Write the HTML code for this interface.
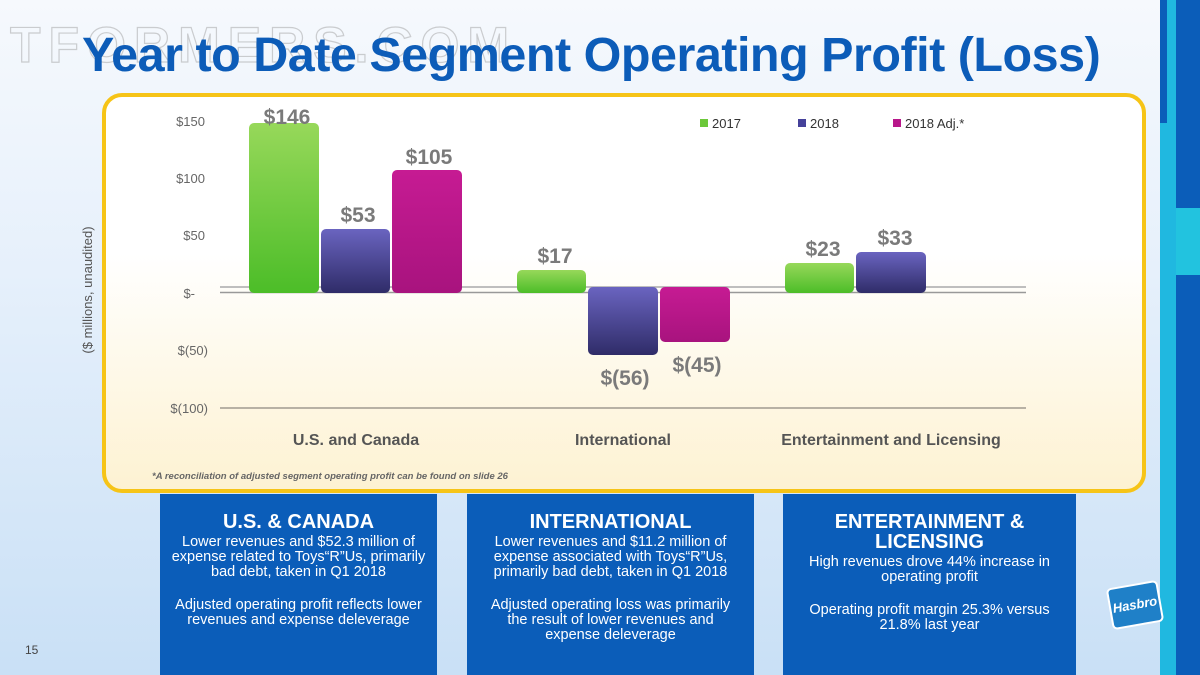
<!DOCTYPE html>
<html><head><meta charset="utf-8"><style>
body{margin:0;width:1200px;height:675px;overflow:hidden;font-family:"Liberation Sans",sans-serif;position:relative;background:linear-gradient(#f6f9fd 0%,#e6f0fb 40%,#c9e0f6 100%);}
.abs{position:absolute}
.title{left:82px;top:27px;font-size:48.5px;font-weight:bold;color:#0c5cb8;letter-spacing:-0.5px;white-space:nowrap}
.wm{left:10px;top:16px;font-size:50px;font-weight:bold;color:transparent;-webkit-text-stroke:1.2px rgba(150,150,150,0.45);letter-spacing:8px}
.box{left:102px;top:93px;width:1036px;height:392px;border:4px solid #f6c417;border-radius:20px;background:linear-gradient(#ffffff 0%,#ffffff 40%,#fdf2d2 100%)}
.panel{top:494px;height:181px;background:#0b5db9;color:#fff;text-align:center;box-sizing:border-box}
.panel h3{margin:18px 0 3px;font-size:20px;line-height:20px;font-weight:bold}
.panel p{margin:0 0 18px;font-size:14.5px;line-height:15px}
</style></head><body>
<div class="abs" style="left:1160px;top:0;width:16px;height:675px;background:#20b8e0"></div>
<div class="abs" style="left:1160px;top:0;width:7px;height:123px;background:#0b5db9"></div>
<div class="abs" style="left:1176px;top:0;width:24px;height:675px;background:#0b5db9"></div>
<div class="abs" style="left:1176px;top:208px;width:24px;height:67px;background:#22c3df"></div>
<div class="abs wm">TFORMERS.COM</div>
<div class="abs title">Year to Date Segment Operating Profit (Loss)</div>
<div class="abs box"></div>
<svg class="abs" style="left:0;top:0" width="1200" height="675">
<defs>
<linearGradient id="g" x1="0" y1="0" x2="0" y2="1"><stop offset="0" stop-color="#97d85a"/><stop offset="1" stop-color="#4cbd28"/></linearGradient>
<linearGradient id="p" x1="0" y1="0" x2="0" y2="1"><stop offset="0" stop-color="#6a64c0"/><stop offset="1" stop-color="#2f2c68"/></linearGradient>
<linearGradient id="m" x1="0" y1="0" x2="0" y2="1"><stop offset="0" stop-color="#c61b93"/><stop offset="1" stop-color="#a8137e"/></linearGradient>
</defs>
<g font-family="Liberation Sans" font-size="13" fill="#666" text-anchor="end">
<text x="205" y="126">$150</text><text x="205" y="183">$100</text><text x="205" y="240">$50</text>
<text x="195" y="298">$-</text><text x="208" y="355">$(50)</text><text x="208" y="413">$(100)</text>
</g>
<text transform="translate(92,290) rotate(-90)" font-size="13" fill="#555" text-anchor="middle">($ millions, unaudited)</text>
<line x1="220" y1="287" x2="1026" y2="287" stroke="#aaa" stroke-width="1.5"/>
<line x1="220" y1="292.5" x2="1026" y2="292.5" stroke="#999" stroke-width="1.5"/>
<line x1="220" y1="408" x2="1026" y2="408" stroke="#a09a90" stroke-width="1.5"/>
<rect x="249" y="123" width="70" height="170" rx="5" fill="url(#g)"/>
<rect x="321" y="229" width="69" height="64" rx="5" fill="url(#p)"/>
<rect x="392" y="170" width="70" height="123" rx="5" fill="url(#m)"/>
<rect x="517" y="270" width="69" height="23" rx="5" fill="url(#g)"/>
<rect x="588" y="287" width="70" height="68" rx="5" fill="url(#p)"/>
<rect x="660" y="287" width="70" height="55" rx="5" fill="url(#m)"/>
<rect x="785" y="263" width="69" height="30" rx="5" fill="url(#g)"/>
<rect x="856" y="252" width="70" height="41" rx="5" fill="url(#p)"/>
<g font-size="21" font-weight="bold" fill="#7a7a7a" text-anchor="middle">
<text x="287" y="124">$146</text><text x="358" y="222">$53</text><text x="429" y="164">$105</text>
<text x="555" y="263">$17</text><text x="625" y="385">$(56)</text><text x="697" y="372">$(45)</text>
<text x="823" y="256">$23</text><text x="895" y="245">$33</text>
</g>
<g font-size="16" font-weight="bold" fill="#555" text-anchor="middle">
<text x="356" y="445">U.S. and Canada</text><text x="623" y="445">International</text><text x="891" y="445">Entertainment and Licensing</text>
</g>
<text x="152" y="479" font-size="9.5" font-weight="bold" font-style="italic" fill="#666">*A reconciliation of adjusted segment operating profit can be found on slide 26</text>
<g font-size="13" fill="#333">
<rect x="700" y="119" width="8" height="8" fill="#6cc83a"/><text x="712" y="128">2017</text>
<rect x="798" y="119" width="8" height="8" fill="#45419a"/><text x="810" y="128">2018</text>
<rect x="893" y="119" width="8" height="8" fill="#b8178a"/><text x="905" y="128">2018 Adj.*</text>
</g>
<text x="25" y="654" font-size="12" fill="#444">15</text>
<g transform="translate(1135,605) rotate(-10)"><rect x="-25" y="-20" width="50" height="40" rx="4" fill="#1f80c8" stroke="#fff" stroke-width="2"/><text x="0" y="4" font-size="13" font-style="italic" font-weight="bold" fill="#fff" text-anchor="middle">Hasbro</text></g>
</svg>
<div class="abs panel" style="left:160px;width:277px;padding:0 10px"><h3>U.S. &amp; CANADA</h3><p>Lower revenues and $52.3 million of expense related to Toys“R”Us, primarily bad debt, taken in Q1 2018</p><p>Adjusted operating profit reflects lower revenues and expense deleverage</p></div>
<div class="abs panel" style="left:467px;width:287px;padding:0 18px"><h3>INTERNATIONAL</h3><p>Lower revenues and $11.2 million of expense associated with Toys“R”Us, primarily bad debt, taken in Q1 2018</p><p>Adjusted operating loss was primarily the result of lower revenues and expense deleverage</p></div>
<div class="abs panel" style="left:783px;width:293px;padding:0 20px"><h3>ENTERTAINMENT &amp;<br>LICENSING</h3><p>High revenues drove 44% increase in operating profit</p><p>Operating profit margin 25.3% versus 21.8% last year</p></div>
</body></html>
